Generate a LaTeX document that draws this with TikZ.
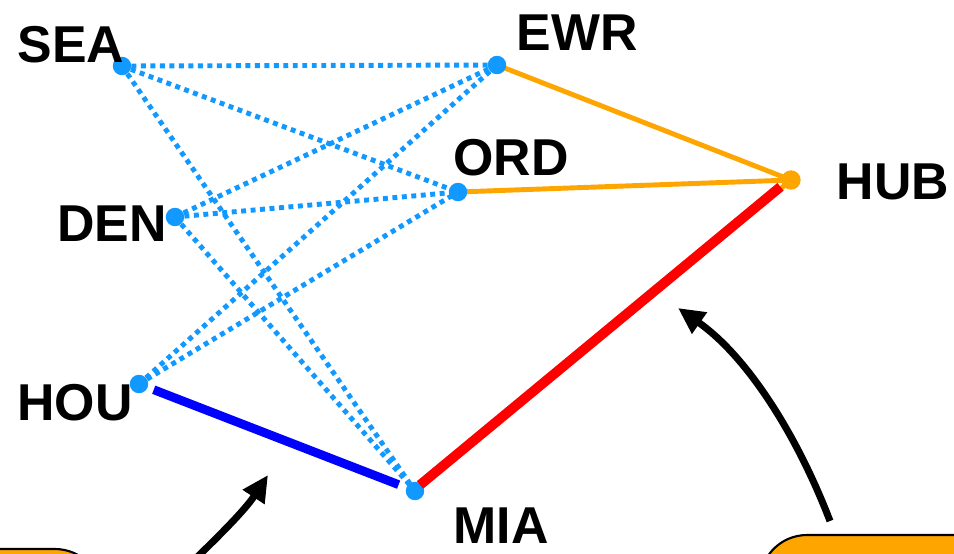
\documentclass[tikz,border=0pt]{standalone}
\usepackage{fontspec}
\newfontfamily\lblfont{Liberation Sans}
\usetikzlibrary{arrows.meta,backgrounds}
\definecolor{linkblue}{RGB}{17,153,255}
\definecolor{hubgold}{RGB}{255,165,0}
\tikzset{
  apt/.style={circle, fill=linkblue, minimum size=10.5pt, inner sep=0pt},
  hubpt/.style={circle, fill=hubgold, minimum size=11pt, inner sep=0pt},
  lbl/.style={font=\lblfont\bfseries\fontsize{29.5}{31}\selectfont, inner sep=0pt},
  dotlink/.style={linkblue, line width=2.8pt, dash pattern=on 2.8pt off 2.6pt},
  hublink/.style={hubgold, line width=2.8pt},
  callarr/.style={-{Triangle[length=15pt,width=14pt]}, line width=4pt},
  callbox/.style={draw=black, line width=1.2pt, fill=hubgold, rounded corners=9.4mm},
}

\begin{document}
\begin{tikzpicture}[x=0.2mm,y=-0.2mm]
\clip (0,0) rectangle (954,553);
% airports
\node[apt] (SEA) at (122,66) {};
\node[apt] (EWR) at (497,65) {};
\node[apt] (ORD) at (458,192) {};
\node[apt] (DEN) at (175,217) {};
\node[apt] (HOU) at (139,384) {};
\node[apt] (MIA) at (415,491) {};
\node[hubpt] (HUB) at (791,180) {};
% names
\node[lbl] (tSEA) at (71,45) {SEA};
\node[lbl] (tEWR) at (577,33) {EWR};
\node[lbl] (tORD) at (511,158) {ORD};
\node[lbl] (tHUB) at (893,182) {HUB};
\node[lbl] (tDEN) at (112,224) {DEN};
\node[lbl] (tHOU) at (75,403) {HOU};
\node[lbl] (tMIA) at (501,526) {MIA};
\begin{scope}[on background layer]
  % full mesh between the spokes
  \foreach \a/\b in {SEA/EWR,SEA/ORD,SEA/MIA,DEN/EWR,DEN/ORD,DEN/MIA,HOU/EWR,HOU/ORD}{
    \draw[dotlink] (\a.center) -- (\b.center);
  }
  % links into the hub
  \draw[hublink] (EWR.center) -- (HUB.center);
  \draw[hublink] (ORD.center) -- (HUB.center);
  \draw[hublink] (MIA.center) -- (HUB.center);
\end{scope}
\draw[red, line width=5.6pt, shorten <=4.5pt, shorten >=7pt, transform canvas={shift={(-0.6pt,0.6pt)}}] (MIA.center) -- (HUB.center);
\draw[blue, line width=5pt, shorten <=9pt, shorten >=10pt] (HOU.center) -- (MIA.center);
% callouts
\draw[callbox] (-100,549) rectangle (102,700);
\draw[callbox] (760,535) rectangle (1100,700);
\coordinate (lfoot) at (188,566);
\coordinate (ltip) at (268,475);
\coordinate (rfoot) at (830,521);
\coordinate (rtip) at (678,308);
\draw[callarr] (lfoot) .. controls (220,535) and (245,510) .. (ltip);
\draw[callarr] (rfoot) .. controls (795,430) and (745,355) .. (rtip);
\end{tikzpicture}
\end{document}
